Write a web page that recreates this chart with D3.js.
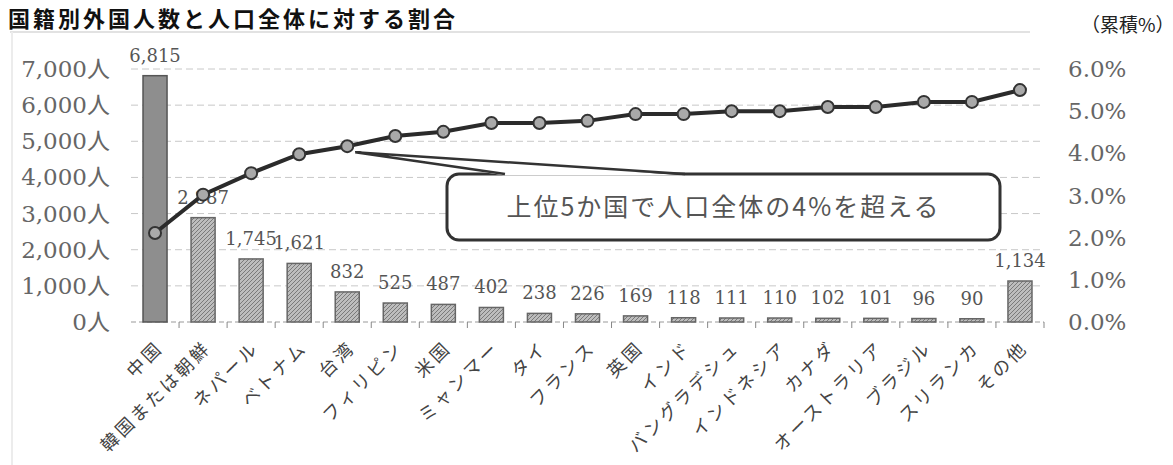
<!DOCTYPE html>
<html>
<head>
<meta charset="utf-8">
<script src="https://cdn.jsdelivr.net/npm/d3@7"></script>
<style>
  body { margin: 0; background: #fff; }
  svg { display: block; }
</style>
</head>
<body>
<div id="chart"></div>
<script>
const categories = ["中国","韓国または朝鮮","ネパール","ベトナム","台湾","フィリピン","米国","ミャンマー","タイ","フランス","英国","インド","バングラデシュ","インドネシア","カナダ","オーストラリア","ブラジル","スリランカ","その他"];
const counts = [6815,2887,1745,1621,832,525,487,402,238,226,169,118,111,110,102,101,96,90,1134];
const cumulative = [2.11,3.02,3.53,3.98,4.17,4.41,4.51,4.72,4.72,4.77,4.93,4.93,5.00,5.00,5.10,5.10,5.22,5.22,5.50];
const leftTicks = [0,1000,2000,3000,4000,5000,6000,7000];
const rightTicks = [0,1,2,3,4,5,6];
const title = "国籍別外国人数と人口全体に対する割合";
const note = "上位5か国で人口全体の4%を超える";

const width = 1173, height = 465;
const margin = {top: 69, right: 129, bottom: 143, left: 131};

const svg = d3.select("#chart").append("svg")
    .attr("width", width)
    .attr("height", height);

const defs = svg.append("defs");
const hatch = defs.append("pattern")
    .attr("id", "hatch")
    .attr("patternUnits", "userSpaceOnUse")
    .attr("width", 4).attr("height", 4);
hatch.append("rect").attr("width", 4).attr("height", 4).attr("fill", "#bdbdbd");
hatch.append("path").attr("d", "M-1,1 l2,-2 M0,4 l4,-4 M3,5 l2,-2")
    .attr("stroke", "#7a7a7a").attr("stroke-width", 1);

// faint scan frame
svg.append("line").attr("x1", 10).attr("x2", 1030).attr("y1", 32).attr("y2", 32)
    .attr("stroke", "#e2e2e2").attr("stroke-width", 2);
svg.append("line").attr("x1", 12).attr("x2", 12).attr("y1", 32).attr("y2", height)
    .attr("stroke", "#ececec").attr("stroke-width", 2);

const x = d3.scaleBand()
    .domain(categories)
    .range([margin.left, width - margin.right])
    .paddingInner(0.5)
    .paddingOuter(0.25);

const y = d3.scaleLinear().domain([0, 7000]).range([height - margin.bottom, margin.top]);
const y2 = d3.scaleLinear().domain([0, 6]).range([height - margin.bottom, margin.top]);

// grid
svg.append("g").selectAll("line")
    .data(leftTicks.filter(d => d > 0))
    .enter().append("line")
    .attr("x1", margin.left).attr("x2", width - margin.right)
    .attr("y1", d => y(d)).attr("y2", d => y(d))
    .attr("stroke", "#c8c8c8")
    .attr("stroke-dasharray", "7,4");

// baseline + ticks at category boundaries
svg.append("line")
    .attr("x1", margin.left).attr("x2", width - margin.right)
    .attr("y1", y(0)).attr("y2", y(0))
    .attr("stroke", "#999").attr("stroke-dasharray", "5,3");
svg.append("g").selectAll("line")
    .data(categories)
    .enter().append("line")
    .attr("x1", d => x(d) + x.bandwidth() / 2 + x.step() / 2)
    .attr("x2", d => x(d) + x.bandwidth() / 2 + x.step() / 2)
    .attr("y1", y(0)).attr("y2", y(0) + 6)
    .attr("stroke", "#888");

// left axis labels
svg.append("g").selectAll("text")
    .data(leftTicks)
    .enter().append("text")
    .attr("x", 110)
    .attr("y", d => y(d))
    .attr("dy", "0.35em")
    .attr("text-anchor", "end")
    .attr("font-family", "'DejaVu Serif', 'Noto Sans CJK JP', serif")
    .attr("font-size", 23)
    .attr("fill", "#666")
    .text(d => d3.format(",")(d) + "人");

// right axis labels
svg.append("g").selectAll("text")
    .data(rightTicks)
    .enter().append("text")
    .attr("x", 1068)
    .attr("y", d => y2(d))
    .attr("dy", "0.35em")
    .attr("font-family", "'DejaVu Serif', serif")
    .attr("font-size", 23)
    .attr("fill", "#666")
    .text(d => d.toFixed(1) + "%");

// bars
svg.append("g").selectAll("rect")
    .data(counts)
    .enter().append("rect")
    .attr("x", (d, i) => x(categories[i]))
    .attr("y", d => y(d))
    .attr("width", x.bandwidth())
    .attr("height", d => y(0) - y(d))
    .attr("fill", (d, i) => i === 0 ? "#8e8e8e" : "url(#hatch)")
    .attr("stroke", (d, i) => i === 0 ? "#555" : "#666")
    .attr("stroke-width", 1.5);

// bar value labels
svg.append("g").selectAll("text")
    .data(counts)
    .enter().append("text")
    .attr("x", (d, i) => x(categories[i]) + x.bandwidth() / 2)
    .attr("y", d => y(d) - 14)
    .attr("text-anchor", "middle")
    .attr("font-family", "'DejaVu Serif', serif")
    .attr("font-size", 18)
    .attr("fill", "#555")
    .text(d => d3.format(",")(d));

// callout box
const box = {x: 447, y: 174, w: 553, h: 66};
svg.append("rect")
    .attr("x", box.x).attr("y", box.y)
    .attr("width", box.w).attr("height", box.h)
    .attr("rx", 12)
    .attr("fill", "#fff")
    .attr("stroke", "#333").attr("stroke-width", 3);
// tail toward the 5th point
const tip = [x(categories[4]) + x.bandwidth() / 2 + 8, y2(cumulative[4]) + 6];
svg.append("path")
    .attr("d", `M${tip[0]},${tip[1]} L505,${box.y + 1.5} L685,${box.y + 1.5} Z`)
    .attr("fill", "#fff");
svg.append("path")
    .attr("d", `M505,${box.y} L${tip[0]},${tip[1]} L685,${box.y}`)
    .attr("fill", "none")
    .attr("stroke", "#333").attr("stroke-width", 2.5)
    .attr("stroke-linejoin", "miter");
svg.append("text")
    .attr("x", box.x + box.w / 2)
    .attr("y", box.y + box.h / 2)
    .attr("dy", "0.35em")
    .attr("text-anchor", "middle")
    .attr("font-family", "'Noto Sans CJK JP', sans-serif")
    .attr("font-size", 25)
    .attr("letter-spacing", 2)
    .attr("fill", "#555")
    .text(note);

// cumulative line
const line = d3.line()
    .x((d, i) => x(categories[i]) + x.bandwidth() / 2)
    .y(d => y2(d));
svg.append("path")
    .datum(cumulative)
    .attr("d", line)
    .attr("fill", "none")
    .attr("stroke", "#2b2b2b")
    .attr("stroke-width", 4);
svg.append("g").selectAll("circle")
    .data(cumulative)
    .enter().append("circle")
    .attr("cx", (d, i) => x(categories[i]) + x.bandwidth() / 2)
    .attr("cy", d => y2(d))
    .attr("r", 6)
    .attr("fill", "#a9a9a9")
    .attr("stroke", "#333")
    .attr("stroke-width", 2);

// x labels
svg.append("g").selectAll("text")
    .data(categories)
    .enter().append("text")
    .attr("transform", d => `translate(${x(d) + x.bandwidth() / 2 + 9},${y(0) + 27}) rotate(-45)`)
    .attr("text-anchor", "end")
    .attr("font-family", "'Noto Sans CJK JP', sans-serif")
    .attr("font-size", 18)
    .attr("letter-spacing", 3)
    .attr("fill", "#444")
    .text(d => d);

// title
svg.append("text")
    .attr("x", 8).attr("y", 27)
    .attr("font-family", "'Noto Sans CJK JP', sans-serif")
    .attr("font-weight", "bold")
    .attr("font-size", 22)
    .attr("letter-spacing", 3)
    .attr("fill", "#111")
    .text(title);

svg.append("text")
    .attr("x", 1081).attr("y", 32)
    .attr("font-family", "'Noto Sans CJK JP', sans-serif")
    .attr("font-size", 19)
    .attr("fill", "#222")
    .text("（累積%）");
</script>
</body>
</html>
